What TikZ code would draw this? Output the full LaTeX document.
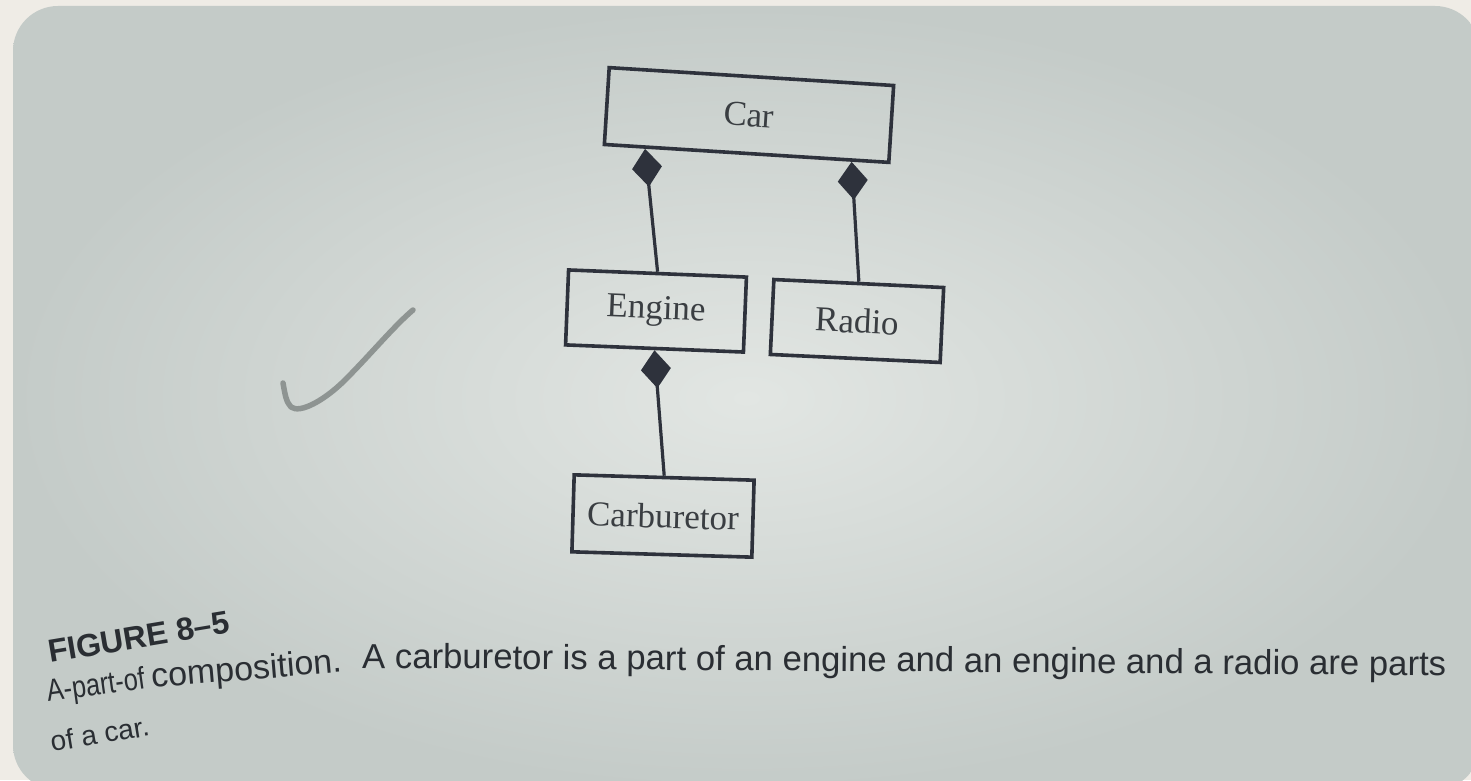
\documentclass[tikz,border=0pt]{standalone}
\usepackage{fontspec}
\setmainfont{Liberation Serif}
\newfontfamily\capfont{Liberation Sans}
\usetikzlibrary{arrows.meta,calc}
\definecolor{outerbg}{HTML}{EFECE6}
\definecolor{pagein}{HTML}{E2E6E3}
\definecolor{pageout}{HTML}{C4CBC8}
\definecolor{ink}{HTML}{2E323C}
\definecolor{txt}{HTML}{3A3E42}
\definecolor{capcol}{HTML}{2A2E33}
\definecolor{pencil}{HTML}{8E9492}
\tikzset{
  umlbox/.style={draw=ink, line width=3.6pt, inner sep=0pt, text=txt,
    font=\fontsize{35}{40}\selectfont},
  comp/.style={draw=ink, line width=3.2pt, {Diamond[length=38pt,width=30pt,fill=ink]}-},
  captxt/.style={text=capcol, inner sep=0pt, anchor=base west}
}
\begin{document}
\begin{tikzpicture}[x=1pt,y=1pt]
\useasboundingbox (0,0) rectangle (1471,780);
\fill[outerbg] (0,0) rectangle (1471,780);
\shade[inner color=pagein, outer color=pageout, rounded corners=45pt] (13,-10) rectangle (1480,774);

% boxes
\node[umlbox, minimum width=285pt, minimum height=77pt, rotate=-3.6] (car) at (749,665) {Car};
\node[umlbox, minimum width=178pt, minimum height=75pt, rotate=-2.3] (engine) at (656,469) {Engine};
\node[umlbox, minimum width=170pt, minimum height=75pt, rotate=-2.7] (radio) at (857,459) {Radio};
\node[umlbox, minimum width=180pt, minimum height=77pt, rotate=-1.7] (carb) at (663,264) {Carburetor};

% connectors
\coordinate (ce) at ($(car.south west)!0.148!(car.south east)$);
\coordinate (cr) at ($(car.south west)!0.865!(car.south east)$);
\draw[comp] (ce) -- (engine.north);
\draw[comp] (cr) -- (radio.north);
\draw[comp] (engine.south) -- (carb.north);

% pencil tick
\draw[pencil, line width=5.5pt, line cap=round, line join=round]
  (283,397) .. controls (285,386) and (286,378) .. (291,373)
  .. controls (300,366) and (325,380) .. (345,400)
  .. controls (370,425) and (395,455) .. (413,470);

% caption
\node[captxt, rotate=9.5, font=\capfont\bfseries\fontsize{32}{36}\selectfont] (fig) at (50,117) {FIGURE 8–5};
\node[captxt, rotate=8, xscale=0.82, font=\capfont\fontsize{31}{36}\selectfont] (c1) at (48,78) {A-part-of};
\node[captxt, rotate=4.8, font=\capfont\fontsize{34}{38}\selectfont] (c2) at (152,92) {composition.};
\node[captxt, rotate=-0.4, font=\capfont\fontsize{34.7}{40}\selectfont] (c3) at (362,112) {A carburetor is a part of an engine and an engine and a radio are parts};
\node[captxt, rotate=9.5, font=\capfont\fontsize{28}{32}\selectfont] (c4) at (52,28) {of a car.};
\end{tikzpicture}
\end{document}
